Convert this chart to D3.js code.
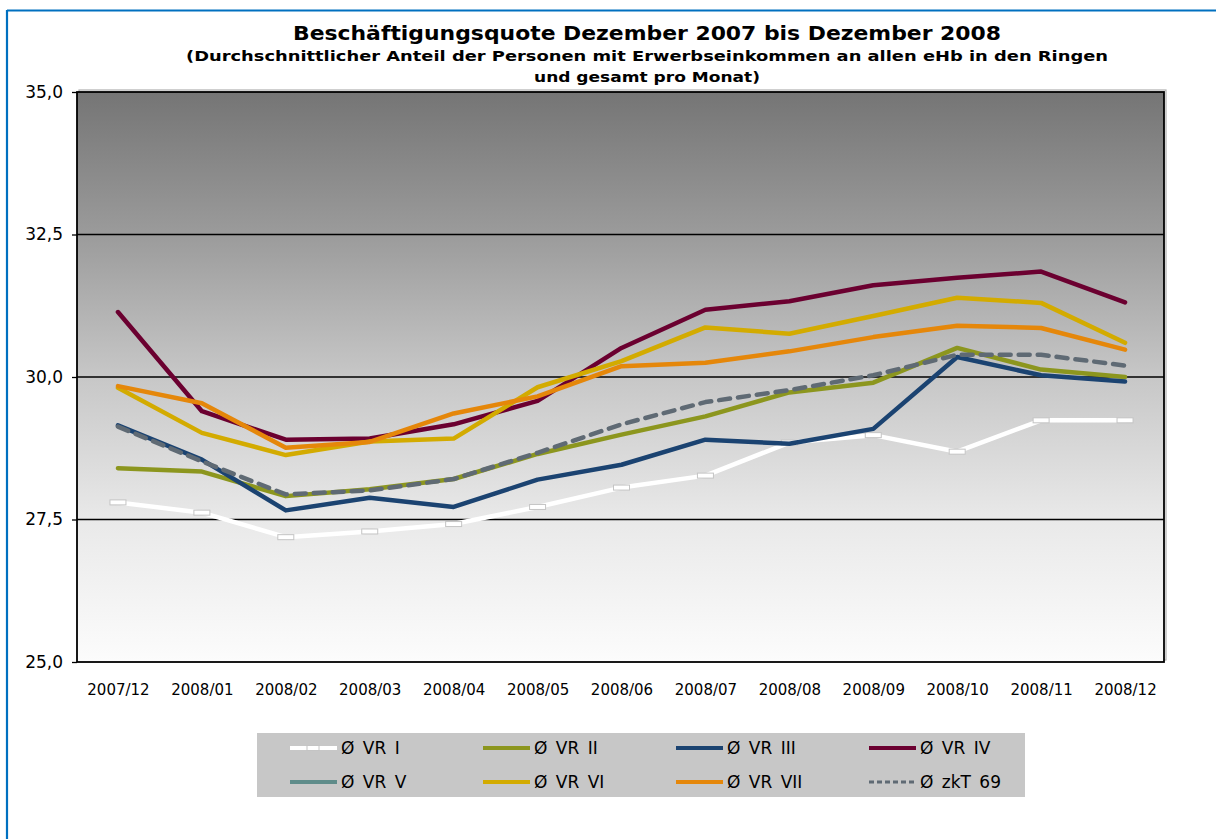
<!DOCTYPE html>
<html>
<head>
<meta charset="utf-8">
<script src="https://cdn.jsdelivr.net/npm/d3@7"></script>
<style>
  html, body { margin: 0; padding: 0; background: #ffffff; }
  svg { display: block; }
  text { font-family: "DejaVu Sans", Verdana, sans-serif; }
</style>
</head>
<body>
<svg id="chart" width="1216" height="839"></svg>
<script>
// ---------- data ----------
const categories = ["2007/12","2008/01","2008/02","2008/03","2008/04","2008/05","2008/06","2008/07","2008/08","2008/09","2008/10","2008/11","2008/12"];
const yTicks = [25, 27.5, 30, 32.5, 35];

const vr1 = [27.80, 27.62, 27.19, 27.29, 27.42, 27.72, 28.06, 28.27, 28.85, 28.98, 28.69, 29.24, 29.24];
const vr2 = [28.40, 28.34, 27.91, 28.03, 28.21, 28.65, 28.99, 29.31, 29.73, 29.90, 30.51, 30.13, 30.00];
const vr3 = [29.15, 28.55, 27.66, 27.88, 27.72, 28.20, 28.46, 28.90, 28.83, 29.09, 30.35, 30.03, 29.92];
const vr4 = [31.14, 29.40, 28.90, 28.92, 29.17, 29.58, 30.51, 31.18, 31.33, 31.61, 31.74, 31.85, 31.31];
const vr5 = [null, null, null, null, null, null, null, null, null, null, null, null, null];
const vr6 = [29.81, 29.02, 28.63, 28.87, 28.92, 29.82, 30.28, 30.87, 30.76, 31.07, 31.39, 31.30, 30.60];
const vr7 = [29.84, 29.54, 28.76, 28.86, 29.36, 29.66, 30.19, 30.25, 30.45, 30.70, 30.90, 30.86, 30.48];
const zkt69 = [29.13, 28.52, 27.94, 28.01, 28.21, 28.67, 29.17, 29.56, 29.77, 30.03, 30.39, 30.39, 30.20];

const seriesNames = ["Ø VR I", "Ø VR II", "Ø VR III", "Ø VR IV", "Ø VR V", "Ø VR VI", "Ø VR VII", "Ø zkT 69"];
const seriesValues = [vr1, vr2, vr3, vr4, vr5, vr6, vr7, zkt69];
const seriesColors = ["#ffffff", "#8c961e", "#1b4371", "#6b0030", "#5f8c8a", "#d3ab00", "#e5870a", "#5f6a74"];
const seriesDash = [null, null, null, null, null, null, null, "11,8"];

// ---------- layout ----------
const svg = d3.select("#chart");
const plot = { left: 77, right: 1164, top: 92, bottom: 662 };

// outer frame (blue)
svg.append("line").attr("x1", 7).attr("x2", 1216).attr("y1", 10.5).attr("y2", 10.5)
  .attr("stroke", "#0070c0").attr("stroke-width", 2.2);
svg.append("line").attr("x1", 7).attr("x2", 7).attr("y1", 10).attr("y2", 839)
  .attr("stroke", "#0070c0").attr("stroke-width", 2.2);

// titles
const titles = [
  { t: "Beschäftigungsquote Dezember 2007 bis Dezember 2008", y: 40, size: 19, len: 708 },
  { t: "(Durchschnittlicher Anteil der Personen mit Erwerbseinkommen an allen eHb in den Ringen", y: 61, size: 14, len: 922 },
  { t: "und gesamt pro Monat)", y: 82, size: 14, len: 226 }
];
titles.forEach(d => {
  svg.append("text").attr("x", 647).attr("y", d.y).attr("text-anchor", "middle")
    .attr("font-size", d.size).attr("font-weight", "bold").attr("fill", "#000")
    .attr("textLength", d.len).attr("lengthAdjust", "spacingAndGlyphs")
    .text(d.t);
});

// scales
const x = d3.scalePoint().domain(categories).range([76, 1167]).padding(0.5);
const y = d3.scaleLinear().domain([25, 35]).range([plot.bottom, plot.top]);

// background gradient
const defs = svg.append("defs");
const grad = defs.append("linearGradient").attr("id", "bg").attr("x1", 0).attr("x2", 0).attr("y1", 0).attr("y2", 1);
[[0, "#757575"], [0.25, "#9b9b9b"], [0.5, "#c7c7c7"], [0.75, "#e9e9e9"], [1, "#fcfcfc"]].forEach(s =>
  grad.append("stop").attr("offset", s[0]).attr("stop-color", s[1]));

svg.append("rect").attr("x", plot.left + 2).attr("y", plot.top - 2)
  .attr("width", plot.right - plot.left).attr("height", plot.bottom - plot.top)
  .attr("fill", "none").attr("stroke", "#b0b0b0").attr("stroke-width", 1.2);
svg.append("rect").attr("x", plot.left).attr("y", plot.top)
  .attr("width", plot.right - plot.left).attr("height", plot.bottom - plot.top)
  .attr("fill", "url(#bg)");

// gridlines
svg.append("g").selectAll("line").data(yTicks.filter(v => v > 25 && v < 35)).join("line")
  .attr("x1", plot.left).attr("x2", plot.right)
  .attr("y1", d => y(d)).attr("y2", d => y(d))
  .attr("stroke", "#000").attr("stroke-width", 1.3);

// border
svg.append("rect").attr("x", plot.left).attr("y", plot.top)
  .attr("width", plot.right - plot.left).attr("height", plot.bottom - plot.top)
  .attr("fill", "none").attr("stroke", "#000").attr("stroke-width", 1.8);

// y axis
const yAxis = d3.axisLeft(y).tickValues(yTicks).tickSize(5).tickPadding(9)
  .tickFormat(d => d3.format(".1f")(d).replace(".", ","));
const gy = svg.append("g").attr("transform", `translate(${plot.left},0)`).call(yAxis);
gy.select(".domain").remove();
gy.selectAll(".tick line").attr("stroke", "#000").attr("stroke-width", 1.3);
gy.selectAll(".tick text").attr("font-size", 17).attr("fill", "#000")
  .attr("font-family", "'DejaVu Sans', Verdana, sans-serif");

// x axis (labels only)
const xAxis = d3.axisBottom(x).tickSize(0).tickPadding(22);
const gx = svg.append("g").attr("transform", `translate(0,${plot.bottom})`).call(xAxis);
gx.select(".domain").remove();
gx.selectAll(".tick text").attr("font-size", 15).attr("fill", "#000")
  .attr("font-family", "'DejaVu Sans', Verdana, sans-serif");

// lines
const line = d3.line().defined(d => d.v != null).x(d => x(d.c)).y(d => y(d.v));
seriesValues.forEach((vals, i) => {
  const pts = categories.map((c, k) => ({ c: c, v: vals[k] }));
  const p = svg.append("path").datum(pts).attr("d", line)
    .attr("fill", "none").attr("stroke", seriesColors[i]).attr("stroke-width", 4.5)
    .attr("stroke-linejoin", "round").attr("stroke-linecap", "round");
  if (seriesDash[i]) p.attr("stroke-dasharray", seriesDash[i]);
  if (i === 0) {
    svg.append("g").selectAll("rect").data(pts.filter(d => d.v != null)).join("rect")
      .attr("x", d => x(d.c) - 8).attr("y", d => y(d.v) - 2.5)
      .attr("width", 16).attr("height", 5)
      .attr("fill", "#ffffff").attr("stroke", "#c4c4c4").attr("stroke-width", 1);
  }
});

// legend
svg.append("rect").attr("x", 257).attr("y", 733).attr("width", 768).attr("height", 64).attr("fill", "#c7c7c7");
const legX = [290, 483, 676, 869];
const legY = [748, 782];
seriesNames.forEach((name, i) => {
  const lx = legX[i % 4], ly = legY[Math.floor(i / 4)];
  const g = svg.append("g");
  const l = g.append("line").attr("x1", lx).attr("x2", lx + 47).attr("y1", ly).attr("y2", ly)
    .attr("stroke", seriesColors[i]).attr("stroke-width", 4);
  if (seriesDash[i]) l.attr("stroke-dasharray", "5,3").attr("stroke-width", 3);
  if (i === 0) {
    g.append("rect").attr("x", lx + 17).attr("y", ly - 2.5).attr("width", 12).attr("height", 5)
      .attr("fill", "#ffffff").attr("stroke", "#c4c4c4").attr("stroke-width", 1);
  }
  g.append("text").attr("x", lx + 51).attr("y", ly + 6).attr("font-size", 17).attr("fill", "#000")
    .attr("word-spacing", 3).text(name);
});
</script>
</body>
</html>
